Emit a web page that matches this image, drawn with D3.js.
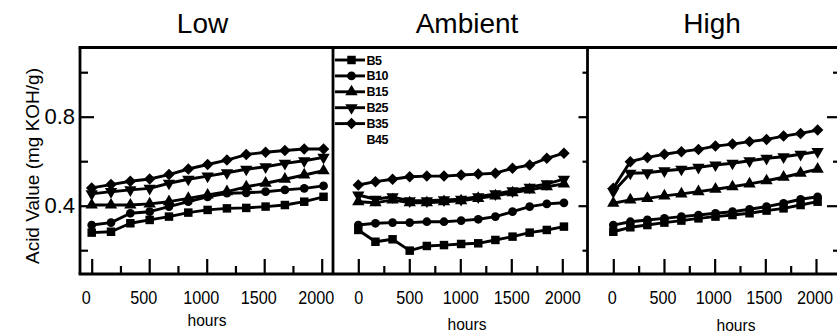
<!DOCTYPE html>
<html><head><meta charset="utf-8">
<script src="https://cdn.jsdelivr.net/npm/d3@7"></script>
<style>
body{margin:0;background:#fff}
svg{display:block}
text{font-family:"Liberation Sans",Arial,Helvetica,sans-serif;fill:#000}
</style>
</head><body>
<svg id="chart" width="837" height="336"></svg>
<script>
// ---------- data ----------
const hours = [0,168,336,504,672,840,1008,1176,1344,1512,1680,1848,2016];
const seriesNames = ["B5","B10","B15","B25","B35"];
const legendLabels = ["B5","B10","B15","B25","B35","B45"];
const panelTitles = ["Low","Ambient","High"];
const xTickValues = [0,500,1000,1500,2000];
const xMinorTicks = [250,750,1250,1750];
const yTickValues = [0.4,0.8];
const yMinorTicks = [0.2,0.6,1.0];

const lowB5   = [0.279,0.283,0.321,0.336,0.351,0.369,0.381,0.388,0.390,0.396,0.403,0.418,0.440];
const lowB10  = [0.313,0.324,0.366,0.373,0.396,0.418,0.440,0.456,0.458,0.463,0.471,0.478,0.489];
const lowB15  = [0.403,0.403,0.403,0.408,0.418,0.433,0.448,0.463,0.485,0.501,0.519,0.538,0.557];
const lowB25  = [0.453,0.463,0.471,0.478,0.501,0.519,0.533,0.548,0.564,0.575,0.590,0.602,0.617];
const lowB35  = [0.480,0.495,0.510,0.520,0.540,0.565,0.585,0.605,0.630,0.640,0.648,0.655,0.655];

const ambB5   = [0.291,0.238,0.249,0.198,0.219,0.223,0.228,0.231,0.246,0.261,0.279,0.291,0.306];
const ambB10  = [0.313,0.321,0.324,0.324,0.328,0.328,0.333,0.339,0.351,0.373,0.396,0.408,0.413];
const ambB15  = [0.418,0.413,0.426,0.413,0.413,0.418,0.422,0.433,0.444,0.458,0.471,0.485,0.498];
const ambB25  = [0.448,0.429,0.440,0.422,0.422,0.426,0.429,0.440,0.453,0.467,0.483,0.498,0.519];
const ambB35  = [0.493,0.508,0.519,0.530,0.533,0.533,0.538,0.542,0.546,0.568,0.583,0.613,0.636];

const highB5  = [0.283,0.303,0.313,0.324,0.333,0.343,0.351,0.358,0.366,0.378,0.388,0.403,0.418];
const highB10 = [0.313,0.328,0.336,0.343,0.351,0.358,0.366,0.373,0.384,0.396,0.411,0.429,0.440];
const highB15 = [0.411,0.426,0.433,0.444,0.453,0.463,0.474,0.485,0.498,0.512,0.528,0.546,0.564];
const highB25 = [0.463,0.546,0.548,0.557,0.564,0.572,0.583,0.591,0.602,0.613,0.620,0.631,0.643];
const highB35 = [0.478,0.598,0.617,0.631,0.643,0.653,0.668,0.677,0.688,0.698,0.713,0.725,0.740];

const panelData = [
  [lowB5, lowB10, lowB15, lowB25, lowB35],
  [ambB5, ambB10, ambB15, ambB25, ambB35],
  [highB5, highB10, highB15, highB25, highB35]
];

// ---------- layout ----------
const svg = d3.select("#chart");
const TOP = 47.5, BOTTOM = 274, LEFT = 80;
const dividers = [333, 587.5];
const panels = [
  {x0:91.7, x1:321.7, labelDx:-6, titleX:202.5, hoursX:207, hoursY:326},
  {x0:358.3, x1:562.3, labelDx:0, titleX:467, hoursX:467, hoursY:330},
  {x0:613.3, x1:816, labelDx:-1.5, titleX:712, hoursX:736, hoursY:331}
];
const y = d3.scaleLinear().domain([0.4,0.8]).range([205.7,116.7]);

const symbols = [
  {type:d3.symbolSquare, size:72, rot:0},
  {type:d3.symbolCircle, size:60, rot:0},
  {type:d3.symbolTriangle, size:66, rot:0},
  {type:d3.symbolTriangle, size:66, rot:180},
  {type:d3.symbolSquare, size:66, rot:45}
];

// frame
const frame = svg.append("g").attr("stroke","#000").attr("stroke-width",2.8).attr("fill","none");
frame.append("line").attr("x1",LEFT-1.4).attr("x2",837).attr("y1",TOP).attr("y2",TOP);
frame.append("line").attr("x1",LEFT-1.4).attr("x2",837).attr("y1",BOTTOM).attr("y2",BOTTOM).attr("stroke-width",3);
frame.append("line").attr("x1",LEFT).attr("x2",LEFT).attr("y1",TOP).attr("y2",BOTTOM);
dividers.forEach(d => frame.append("line").attr("x1",d).attr("x2",d).attr("y1",TOP).attr("y2",BOTTOM));

function styleAxis(g){
  g.select(".domain").remove();
  g.selectAll(".tick line").attr("stroke","#000").attr("stroke-width",2.2);
}

// y axis (left)
const yMajor = svg.append("g").attr("transform",`translate(${LEFT},0)`)
  .call(d3.axisLeft(y).tickValues(yTickValues).tickSize(-14).tickPadding(5).tickFormat(d3.format(".1f")));
styleAxis(yMajor);
yMajor.selectAll("text").attr("font-size",22).attr("font-family",null);
const yMinor = svg.append("g").attr("transform",`translate(${LEFT},0)`)
  .call(d3.axisLeft(y).tickValues(yMinorTicks).tickSize(-8).tickFormat(""));
styleAxis(yMinor);

// right-side ticks of middle panel (pointing left)
[[yTickValues,9],[yMinorTicks,5]].forEach(([vals,len]) => {
  const g = svg.append("g").attr("transform",`translate(${dividers[1]},0)`)
    .call(d3.axisRight(y).tickValues(vals).tickSize(-len).tickFormat(""));
  styleAxis(g);
});
// right-side ticks of right panel
[[yTickValues,11],[yMinorTicks,5]].forEach(([vals,len]) => {
  const g = svg.append("g").attr("transform",`translate(838,0)`)
    .call(d3.axisRight(y).tickValues(vals).tickSize(-len).tickFormat(""));
  styleAxis(g);
});

// y title
svg.append("text")
  .attr("transform","translate(39,166) rotate(-90)")
  .attr("text-anchor","middle").attr("font-size",19)
  .text("Acid Value (mg KOH/g)");

// panels
panels.forEach((p, pi) => {
  const x = d3.scaleLinear().domain([0,2000]).range([p.x0, p.x1]);

  const gx = svg.append("g").attr("transform",`translate(0,${BOTTOM})`)
    .call(d3.axisBottom(x).tickValues(xTickValues).tickSize(-15).tickPadding(16).tickFormat(d3.format("d")));
  styleAxis(gx);
  gx.selectAll("text")
    .attr("font-size",18).attr("font-family",null)
    .attr("dy","0.78em")
    .attr("dx",p.labelDx)
    .attr("textLength",d => String(d).length*9)
    .attr("lengthAdjust","spacingAndGlyphs");
  const gxm = svg.append("g").attr("transform",`translate(0,${BOTTOM})`)
    .call(d3.axisBottom(x).tickValues(xMinorTicks).tickSize(-8).tickFormat(""));
  styleAxis(gxm);

  svg.append("text").attr("x",p.hoursX).attr("y",p.hoursY)
    .attr("text-anchor","middle").attr("font-size",17)
    .attr("textLength",39).attr("lengthAdjust","spacingAndGlyphs")
    .text("hours");

  svg.append("text").attr("x",p.titleX).attr("y",33.3)
    .attr("text-anchor","middle").attr("font-size",28)
    .text(panelTitles[pi]);

  const line = d3.line().x((d,i) => x(hours[i])).y(d => y(d));
  panelData[pi].forEach((vals, si) => {
    const g = svg.append("g");
    g.append("path").datum(vals).attr("d",line)
      .attr("fill","none").attr("stroke","#000").attr("stroke-width",2.9).attr("stroke-linejoin","round");
    const s = symbols[si];
    g.selectAll("path.m").data(vals).join("path").attr("class","m")
      .attr("d",d3.symbol().type(s.type).size(s.size))
      .attr("transform",(d,i) => `translate(${x(hours[i])},${y(d)}) rotate(${s.rot})`)
      .attr("fill","#000");
  });
});

// legend (inside middle panel)
const legend = svg.append("g");
legendLabels.forEach((lab, i) => {
  const ly = 60 + i*15.9;
  if (i < seriesNames.length) {
    legend.append("line").attr("x1",335).attr("x2",365).attr("y1",ly).attr("y2",ly)
      .attr("stroke","#000").attr("stroke-width",2.9);
    const s = symbols[i];
    legend.append("path").attr("d",d3.symbol().type(s.type).size(s.size))
      .attr("transform",`translate(351.5,${ly}) rotate(${s.rot})`).attr("fill","#000");
  }
  legend.append("text").attr("x",366.5).attr("y",ly+4.5)
    .attr("font-size",12.5).attr("font-weight","bold").attr("letter-spacing",-0.5)
    .text(lab);
});
</script>
</body></html>
